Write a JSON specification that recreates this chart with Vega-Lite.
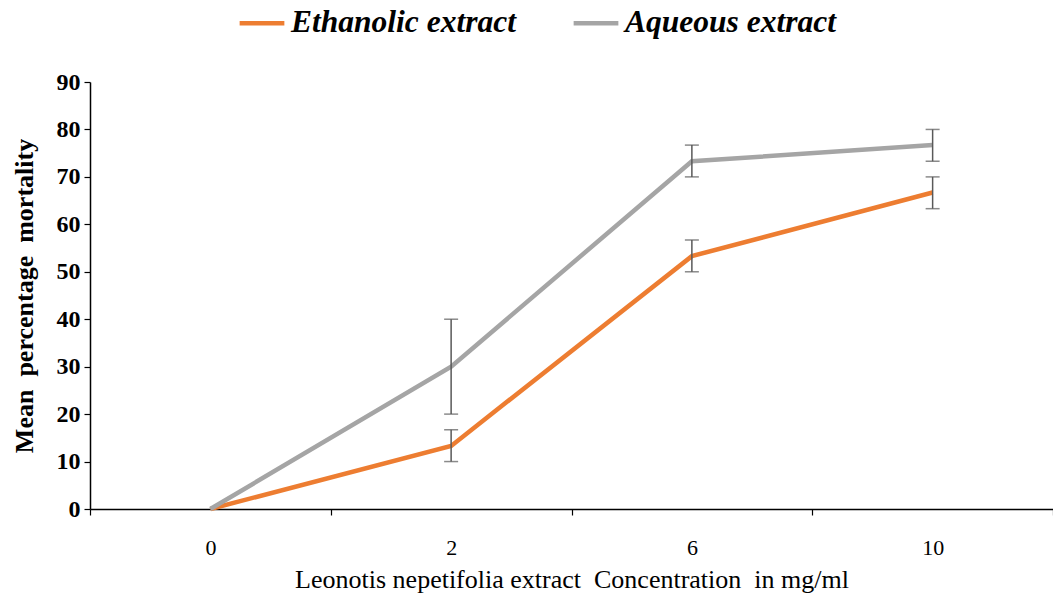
{
  "$schema": "https://vega.github.io/schema/vega-lite/v6.json",
  "width": 963,
  "height": 427,
  "autosize": {"type": "none"},
  "padding": {"left": 90, "top": 82, "right": 0, "bottom": 89},
  "background": "white",
  "config": {
    "view": {"stroke": null},
    "font": "Liberation Serif"
  },
  "data": {
    "values": [
      {"conc": "0", "series": "Ethanolic extract", "mean": 0, "lo": null, "hi": null},
      {"conc": "2", "series": "Ethanolic extract", "mean": 13.3, "lo": 10, "hi": 16.7},
      {"conc": "6", "series": "Ethanolic extract", "mean": 53.3, "lo": 50, "hi": 56.7},
      {"conc": "10", "series": "Ethanolic extract", "mean": 66.7, "lo": 63.3, "hi": 70},
      {"conc": "0", "series": "Aqueous extract", "mean": 0, "lo": null, "hi": null},
      {"conc": "2", "series": "Aqueous extract", "mean": 30, "lo": 20, "hi": 40},
      {"conc": "6", "series": "Aqueous extract", "mean": 73.3, "lo": 70, "hi": 76.7},
      {"conc": "10", "series": "Aqueous extract", "mean": 76.7, "lo": 73.3, "hi": 80}
    ]
  },
  "encoding": {
    "x": {
      "field": "conc",
      "type": "nominal",
      "sort": ["0", "2", "6", "10"],
      "scale": {"paddingInner": 0, "paddingOuter": 0},
      "axis": {
        "title": "Leonotis nepetifolia extract\u00a0 Concentration\u00a0 in mg/ml",
        "titleFont": "Liberation Serif",
        "titleFontSize": 26,
        "titleFontWeight": "normal",
        "titleColor": "black",
        "titlePadding": 8,
        "labelAngle": 0,
        "labelFont": "Liberation Serif",
        "labelFontSize": 22,
        "labelFontWeight": "normal",
        "labelColor": "black",
        "labelPadding": 22,
        "tickBand": "extent",
        "tickSize": 6,
        "tickColor": "black",
        "tickWidth": 1.2,
        "domainColor": "black",
        "domainWidth": 1.5
      }
    }
  },
  "layer": [
    {
      "mark": {"type": "line", "strokeWidth": 4.5},
      "encoding": {
        "y": {
          "field": "mean",
          "type": "quantitative",
          "scale": {"domain": [0, 90]},
          "axis": {
            "title": "Mean\u00a0 percentage\u00a0 mortality",
            "titleFont": "Liberation Serif",
            "titleFontSize": 26,
            "titleFontWeight": "bold",
            "titleColor": "black",
            "titlePadding": 19,
            "values": [0, 10, 20, 30, 40, 50, 60, 70, 80, 90],
            "labelFont": "Liberation Serif",
            "labelFontSize": 24,
            "labelFontWeight": "bold",
            "labelColor": "black",
            "labelPadding": 4,
            "tickSize": 6,
            "tickColor": "black",
            "tickWidth": 1.2,
            "domainColor": "black",
            "domainWidth": 1.5,
            "grid": false
          }
        },
        "color": {
          "field": "series",
          "type": "nominal",
          "sort": ["Ethanolic extract", "Aqueous extract"],
          "scale": {"domain": ["Ethanolic extract", "Aqueous extract"], "range": ["#ED7D31", "#A5A5A5"]},
          "legend": {
            "title": null,
            "orient": "none",
            "legendX": 147,
            "legendY": -84,
            "direction": "horizontal",
            "symbolType": "stroke",
            "symbolStrokeWidth": 4.5,
            "symbolSize": 2000,
            "labelFont": "Liberation Serif",
            "labelFontSize": 31.5,
            "labelFontStyle": "italic",
            "labelFontWeight": "bold",
            "labelColor": "black",
            "labelOffset": 4,
            "columnPadding": 48,
            "labelLimit": 400
          }
        }
      }
    },
    {
      "transform": [{"filter": "datum.lo != null"}],
      "mark": {"type": "rule", "color": "#595959", "strokeWidth": 1.5},
      "encoding": {
        "y": {"field": "lo", "type": "quantitative"},
        "y2": {"field": "hi"}
      }
    },
    {
      "transform": [{"filter": "datum.lo != null"}],
      "mark": {"type": "tick", "color": "#595959", "thickness": 1.5, "size": 14},
      "encoding": {
        "y": {"field": "lo", "type": "quantitative"}
      }
    },
    {
      "transform": [{"filter": "datum.hi != null"}],
      "mark": {"type": "tick", "color": "#595959", "thickness": 1.5, "size": 14},
      "encoding": {
        "y": {"field": "hi", "type": "quantitative"}
      }
    }
  ]
}
